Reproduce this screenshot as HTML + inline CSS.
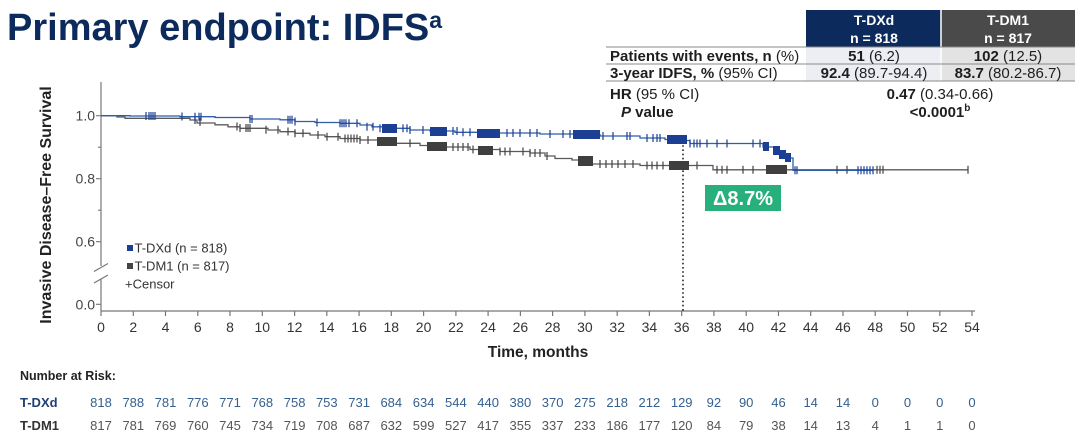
<!DOCTYPE html>
<html><head><meta charset="utf-8">
<style>
html,body{margin:0;padding:0;background:#fff;}
svg{display:block;}
text{font-family:"Liberation Sans",Arial,sans-serif;}
</style></head>
<body>
<svg width="1080" height="433" viewBox="0 0 1080 433" xmlns="http://www.w3.org/2000/svg">
<rect width="1080" height="433" fill="#fff"/>
<!-- Title -->
<text x="7" y="40" font-size="38" font-weight="bold" fill="#0c2a5b">Primary endpoint: IDFS<tspan font-size="23" dy="-12">a</tspan></text>

<!-- Table -->
<rect x="806" y="10" width="135" height="37" fill="#0d2a5c"/>
<rect x="941" y="10" width="134" height="37" fill="#4a4a4a"/>
<rect x="806" y="47" width="135" height="34" fill="#eceef3"/>
<rect x="941" y="47" width="134" height="34" fill="#e3e3e3"/>
<line x1="941" y1="10" x2="941" y2="81" stroke="#fff" stroke-width="1.5"/>
<line x1="606" y1="47" x2="1075" y2="47" stroke="#8a8a8a" stroke-width="1"/>
<line x1="606" y1="64" x2="1075" y2="64" stroke="#8a8a8a" stroke-width="1"/>
<line x1="606" y1="81" x2="1075" y2="81" stroke="#8a8a8a" stroke-width="1"/>
<g font-size="14" font-weight="bold" fill="#fff" text-anchor="middle">
<text x="874" y="25">T-DXd</text><text x="874" y="43">n = 818</text>
<text x="1008" y="25">T-DM1</text><text x="1008" y="43">n = 817</text>
</g>
<g font-size="15" fill="#1e1e1e">
<text x="610" y="61"><tspan font-weight="bold">Patients with events, n</tspan> (%)</text>
<text x="610" y="78"><tspan font-weight="bold">3-year IDFS, %</tspan> (95% CI)</text>
<text x="610" y="99"><tspan font-weight="bold">HR</tspan> (95 % CI)</text>
<text x="621" y="117" font-weight="bold"><tspan font-style="italic">P</tspan> value</text>
</g>
<g font-size="15" fill="#1e1e1e" text-anchor="middle">
<text x="874" y="61"><tspan font-weight="bold">51</tspan> (6.2)</text>
<text x="1008" y="61"><tspan font-weight="bold">102</tspan> (12.5)</text>
<text x="874" y="78"><tspan font-weight="bold">92.4</tspan> (89.7-94.4)</text>
<text x="1008" y="78"><tspan font-weight="bold">83.7</tspan> (80.2-86.7)</text>
<text x="940" y="99"><tspan font-weight="bold">0.47</tspan> (0.34-0.66)</text>
<text x="940" y="117" font-weight="bold">&lt;0.0001<tspan font-size="10" dy="-6">b</tspan></text>
</g>

<!-- Y axis -->
<g stroke="#777" stroke-width="1.2" fill="none">
<path d="M101,82 V266 M101,279 V311"/>
<path d="M96,115.7 H101 M96,178.7 H101 M96,241.7 H101 M96,304.3 H101 M98,147.2 H101 M98,210.2 H101"/>
<path d="M94,271.5 L108,263.5 M94,283 L108,275"/>
<path d="M101,311 H975"/>
</g>
<g stroke="#777" stroke-width="1.2">
<path d="M101,311v5 M133.3,311v5 M165.5,311v5 M197.8,311v5 M230,311v5 M262.3,311v5 M294.6,311v5 M326.8,311v5 M359.1,311v5 M391.3,311v5 M423.6,311v5 M455.9,311v5 M488.1,311v5 M520.4,311v5 M552.6,311v5 M584.9,311v5 M617.2,311v5 M649.4,311v5 M681.7,311v5 M713.9,311v5 M746.2,311v5 M778.5,311v5 M810.7,311v5 M843,311v5 M875.2,311v5 M907.5,311v5 M939.8,311v5 M972,311v5"/>
</g>
<g font-size="14" fill="#444" text-anchor="end">
<text x="95" y="120.7">1.0</text>
<text x="95" y="183.7">0.8</text>
<text x="95" y="246.7">0.6</text>
<text x="95" y="309.3">0.0</text>
</g>
<text transform="translate(51,205) rotate(-90)" font-size="16" font-weight="bold" fill="#222" text-anchor="middle">Invasive Disease–Free Survival</text>

<g font-size="14" fill="#333" text-anchor="middle">
<text x="101" y="332">0</text><text x="133.3" y="332">2</text><text x="165.5" y="332">4</text><text x="197.8" y="332">6</text><text x="230" y="332">8</text><text x="262.3" y="332">10</text><text x="294.6" y="332">12</text><text x="326.8" y="332">14</text><text x="359.1" y="332">16</text><text x="391.3" y="332">18</text><text x="423.6" y="332">20</text><text x="455.9" y="332">22</text><text x="488.1" y="332">24</text><text x="520.4" y="332">26</text><text x="552.6" y="332">28</text><text x="584.9" y="332">30</text><text x="617.2" y="332">32</text><text x="649.4" y="332">34</text><text x="681.7" y="332">36</text><text x="713.9" y="332">38</text><text x="746.2" y="332">40</text><text x="778.5" y="332">42</text><text x="810.7" y="332">44</text><text x="843" y="332">46</text><text x="875.2" y="332">48</text><text x="907.5" y="332">50</text><text x="939.8" y="332">52</text><text x="972" y="332">54</text>
</g>
<text x="538" y="357" font-size="15.5" font-weight="bold" fill="#222" text-anchor="middle">Time, months</text>

<!-- Dotted line at 36 -->
<line x1="683" y1="141" x2="683" y2="311" stroke="#222" stroke-width="1.6" stroke-dasharray="1.6,2.6"/>

<!-- Gray curve T-DM1 -->
<path fill="none" stroke="#5a5a5a" stroke-width="1.3" d="M101,115.7 H117 V117 H125 V118.3 H190 V120 H197 V123 H215 V124.8 H228 V126.8 H240 V128.3 H268 V130 H280 V131.7 H295 V133.3 H310 V135 H325 V136.7 H340 V138.5 H360 V140 H380 V141.5 H393 V143.3 H420 V145.5 H440 V147 H470 V149.5 H500 V151.5 H530 V153 H545 V156 H555 V158.5 H572 V160 H585 V162 H592 V164 H640 V165.5 H713 V169.8 H968"/>
<!-- Blue curve T-DXd -->
<path fill="none" stroke="#2f5ea6" stroke-width="1.3" d="M101,115.7 H130 V116 H180 V116.7 H215 V117.5 H250 V119 H280 V119.8 H295 V121.5 H315 V122.5 H340 V123.3 H360 V125 H372 V126.8 H387 V128.3 H410 V130 H430 V131 H455 V132.3 H480 V133 H540 V134 H575 V134.6 H600 V136 H640 V138 H665 V139.5 H683 V140.5 H690 V143.5 H763 V147 H775 V151 H780 V155 H787 V158 H793 V170.3 H873"/>

<!-- Gray censor ticks -->
<g stroke="#444" stroke-width="1.2">
<path d="M195,116v8 M200,118v8 M237,122.5v8 M240,124v8 M246,124v8 M248,124v8 M250,124v8 M266,125.8v8 M278,125.8v8 M288,127.5v8 M295,129.3v8 M303,129.3v8 M318,131v8 M327,132.7v8 M338,132.7v8 M345,134.5v8 M348,134.5v8 M351,134.5v8 M354,134.5v8 M357,134.5v8 M360,136v8 M368,136v8 M410,139.3v8 M453,143v8 M458,143v8 M463,143v8 M468,143v8 M473,145.5v8 M500,147.5v8 M505,147.5v8 M510,147.5v8 M523,147.5v8 M530,149v8 M535,149v8 M540,149v8 M547,152v8 M600,160v8 M606,160v8 M612,160v8 M618,160v8 M625,160v8 M633,160v8 M647,161.5v8 M652,161.5v8 M657,161.5v8 M663,161.5v8 M697,161.5v8 M717,165.8v8 M722,165.8v8 M727,165.8v8 M743,165.8v8 M753,165.8v8 M837,165.8v8 M847,165.8v8 M877,165.8v8 M880,165.8v8 M883,165.8v8 M968,165.8v8"/>
</g>
<g fill="#3f3f3f">
<rect x="377" y="137" width="20" height="9"/>
<rect x="427" y="142" width="20" height="9"/>
<rect x="478" y="146" width="15" height="9"/>
<rect x="578" y="156" width="15" height="10"/>
<rect x="669" y="161" width="20" height="9"/>
<rect x="766" y="165" width="21" height="9"/>
</g>
<!-- Blue censor ticks -->
<g stroke="#1c3f94" stroke-width="1.2">
<path d="M146,112v8 M149,112v8 M151,112v8 M153,112v8 M155,112v8 M182,112.5v8 M195,112.7v8 M199,112.7v8 M201,112.7v8 M250,115v8 M252,115v8 M288,115.8v8 M290,115.8v8 M292,115.8v8 M295,117.5v8 M317,118.5v8 M340,119.3v8 M342,119.3v8 M344,119.3v8 M346,119.3v8 M349,119.3v8 M357,119.3v8 M367,122.8v8 M373,122.8v8 M380,124.3v8 M403,124.3v8 M407,124.3v8 M410,126v8 M423,126v8 M453,127v8 M457,127v8 M463,128.3v8 M470,128.3v8 M507,129v8 M513,129v8 M520,129v8 M530,129v8 M537,129v8 M550,130v8 M563,130v8 M570,130v8 M603,132v8 M613,132v8 M627,132v8 M630,132v8 M647,134v8 M653,134v8 M657,134v8 M660,134v8 M690,139.5v8 M694,139.5v8 M697,139.5v8 M700,139.5v8 M707,139.5v8 M717,139.5v8 M727,139.5v8 M753,139.5v8 M760,139.5v8 M795,166.3v8 M797,166.3v8 M858,166.3v8 M861,166.3v8 M864,166.3v8 M867,166.3v8 M870,166.3v8 M873,166.3v8"/>
</g>
<g fill="#1c3f94">
<rect x="382" y="124" width="15" height="9"/>
<rect x="430" y="127" width="17" height="9"/>
<rect x="477" y="129" width="23" height="9"/>
<rect x="573" y="130" width="27" height="9"/>
<rect x="667" y="135" width="20" height="9"/>
<rect x="763" y="142" width="6" height="9"/>
<rect x="773" y="146" width="7" height="9"/>
<rect x="779" y="150" width="7" height="9"/>
<rect x="785" y="153" width="6" height="9"/>
</g>

<!-- Legend -->
<rect x="127" y="245" width="6" height="6" fill="#1c3f94"/>
<rect x="127" y="263" width="6" height="6" fill="#444"/>
<g font-size="13" fill="#333">
<text x="134.5" y="252.5">T-DXd (n = 818)</text>
<text x="134.5" y="270.5">T-DM1 (n = 817)</text>
<text x="125" y="288.5">+Censor</text>
</g>

<!-- Delta box -->
<rect x="705" y="185" width="76" height="26" fill="#27b07c"/>
<text x="743" y="205" font-size="20" font-weight="bold" fill="#fff" text-anchor="middle">Δ8.7%</text>

<!-- Number at risk -->
<text x="20" y="380" font-size="12.5" font-weight="bold" fill="#222">Number at Risk:</text>
<text x="20" y="407" font-size="13" font-weight="bold" fill="#1f3f78">T-DXd</text>
<text x="20" y="430" font-size="13" font-weight="bold" fill="#333">T-DM1</text>
<g font-size="13" fill="#35608f" text-anchor="middle">
<text x="101" y="407">818</text><text x="133.3" y="407">788</text><text x="165.5" y="407">781</text><text x="197.8" y="407">776</text><text x="230" y="407">771</text><text x="262.3" y="407">768</text><text x="294.6" y="407">758</text><text x="326.8" y="407">753</text><text x="359.1" y="407">731</text><text x="391.3" y="407">684</text><text x="423.6" y="407">634</text><text x="455.9" y="407">544</text><text x="488.1" y="407">440</text><text x="520.4" y="407">380</text><text x="552.6" y="407">370</text><text x="584.9" y="407">275</text><text x="617.2" y="407">218</text><text x="649.4" y="407">212</text><text x="681.7" y="407">129</text><text x="713.9" y="407">92</text><text x="746.2" y="407">90</text><text x="778.5" y="407">46</text><text x="810.7" y="407">14</text><text x="843" y="407">14</text><text x="875.2" y="407">0</text><text x="907.5" y="407">0</text><text x="939.8" y="407">0</text><text x="972" y="407">0</text>
</g>
<g font-size="13" fill="#555" text-anchor="middle">
<text x="101" y="430">817</text><text x="133.3" y="430">781</text><text x="165.5" y="430">769</text><text x="197.8" y="430">760</text><text x="230" y="430">745</text><text x="262.3" y="430">734</text><text x="294.6" y="430">719</text><text x="326.8" y="430">708</text><text x="359.1" y="430">687</text><text x="391.3" y="430">632</text><text x="423.6" y="430">599</text><text x="455.9" y="430">527</text><text x="488.1" y="430">417</text><text x="520.4" y="430">355</text><text x="552.6" y="430">337</text><text x="584.9" y="430">233</text><text x="617.2" y="430">186</text><text x="649.4" y="430">177</text><text x="681.7" y="430">120</text><text x="713.9" y="430">84</text><text x="746.2" y="430">79</text><text x="778.5" y="430">38</text><text x="810.7" y="430">14</text><text x="843" y="430">13</text><text x="875.2" y="430">4</text><text x="907.5" y="430">1</text><text x="939.8" y="430">1</text><text x="972" y="430">0</text>
</g>
</svg>
</body></html>
